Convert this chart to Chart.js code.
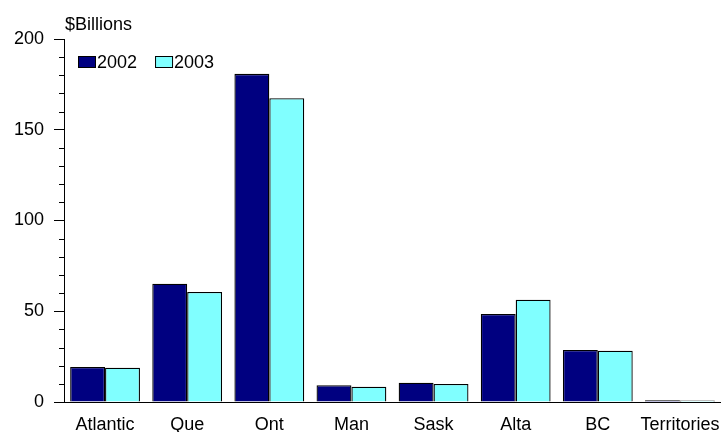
<!DOCTYPE html>
<html>
<head>
<meta charset="utf-8">
<script src="https://cdn.jsdelivr.net/npm/chart.js@4/dist/chart.umd.min.js"></script>
<style>
  html, body { margin: 0; padding: 0; background: #fff; }
  canvas { display: block; }
</style>
</head>
<body>
<canvas id="c" width="721" height="432"></canvas>
<script>
const categories = ['Atlantic', 'Que', 'Ont', 'Man', 'Sask', 'Alta', 'BC', 'Territories'];
const seriesNames = ['2002', '2003'];
const values2002 = [19.3, 65.2, 180.8, 9.2, 10.6, 48.5, 28.7, 0.9];
const values2003 = [18.9, 60.6, 167.4, 8.4, 9.9, 56.4, 28.2, 0.8];
const unitLabel = '$Billions';
const yMin = 0, yMax = 200, yStep = 50, yMinorStep = 10;

const FONT = '"Liberation Sans", Arial, Helvetica, sans-serif';
const fontSpec = { family: FONT, size: 18 };

const extras = {
  id: 'extras',
  afterDraw(chart) {
    const ctx = chart.ctx, y = chart.scales.y, a = chart.chartArea;
    ctx.save();
    ctx.strokeStyle = '#000';
    ctx.lineWidth = 1;
    for (let v = yMin; v <= yMax; v += yMinorStep) {
      if (v % yStep === 0) continue;
      const py = Math.round(y.getPixelForValue(v)) + 0.5;
      ctx.beginPath();
      ctx.moveTo(a.left - 5, py);
      ctx.lineTo(a.left, py);
      ctx.stroke();
    }
    ctx.font = '18px ' + FONT;
    ctx.fillStyle = '#000';
    ctx.textBaseline = 'alphabetic';
    ctx.textAlign = 'left';
    ctx.fillText(unitLabel, a.left + 1, 30);

    let x = a.left + 14;
    const cy = 62;
    chart.data.datasets.forEach(ds => {
      ctx.fillStyle = ds.backgroundColor;
      ctx.fillRect(x, cy - 6, 18, 12);
      ctx.strokeStyle = '#000';
      ctx.strokeRect(x + 0.5, cy - 5.5, 17, 11);
      ctx.fillStyle = '#000';
      ctx.textBaseline = 'middle';
      ctx.fillText(ds.label, x + 19, cy + 1);
      x += 19 + ctx.measureText(ds.label).width + 18;
    });
    ctx.restore();
  }
};

new Chart(document.getElementById('c'), {
  type: 'bar',
  data: {
    labels: categories,
    datasets: [
      { label: seriesNames[0], data: values2002, backgroundColor: '#000080', borderColor: '#000', borderWidth: 1.3 },
      { label: seriesNames[1], data: values2003, backgroundColor: '#80FFFF', borderColor: '#000', borderWidth: 1.3 }
    ]
  },
  options: {
    responsive: false,
    animation: false,
    categoryPercentage: 0.85,
    barPercentage: 1.0,
    layout: { padding: { top: 39, left: 0, right: 0, bottom: 0 } },
    plugins: { legend: { display: false }, tooltip: { enabled: false }, title: { display: false } },
    scales: {
      x: {
        grid: { display: false, drawTicks: false },
        border: { display: true, color: '#000', width: 1 },
        ticks: { color: '#000', font: fontSpec, padding: 12, maxRotation: 0, autoSkip: false },
        afterFit(s) { s.height = 30; s.paddingLeft = 0; s.paddingRight = 0; }
      },
      y: {
        min: yMin, max: yMax,
        ticks: { stepSize: yStep, color: '#000', font: fontSpec, padding: 10 },
        grid: { drawOnChartArea: false, tickLength: 10, color: '#000' },
        border: { display: true, color: '#000', width: 1 },
        afterFit(s) { s.width = 64; }
      }
    }
  },
  plugins: [extras]
});
</script>
</body>
</html>
